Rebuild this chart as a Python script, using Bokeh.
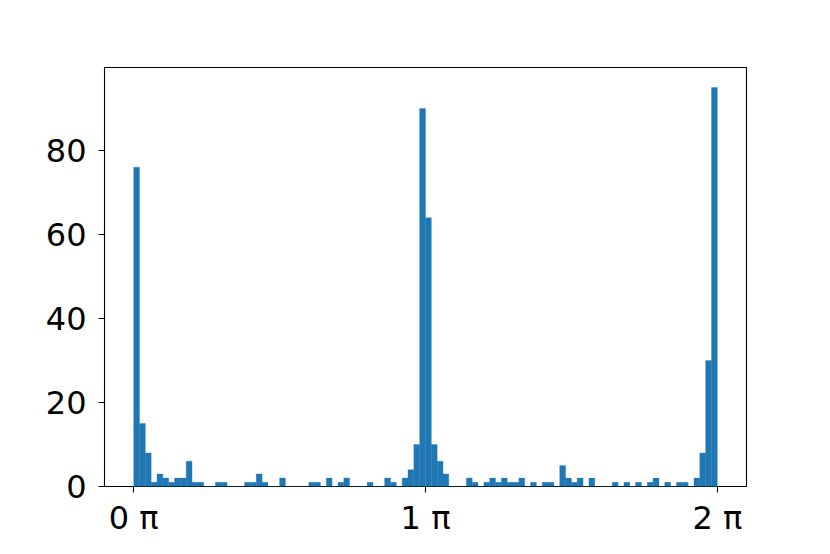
import numpy as np
from bokeh.plotting import figure
from bokeh.models import Range1d, FixedTicker, ColumnDataSource
from bokeh.embed import file_html
from bokeh.resources import INLINE

# Histogram counts for 100 equal bins over [0, 2π]
counts = [76, 15, 8, 1, 3, 2, 1, 2, 2, 6, 1, 1, 0, 0, 1, 1, 0, 0, 0, 1,
          1, 3, 1, 0, 0, 2, 0, 0, 0, 0, 1, 1, 0, 2, 0, 1, 2, 0, 0, 0,
          1, 0, 0, 2, 1, 0, 2, 4, 10, 90, 64, 10, 6, 3, 0, 0, 0, 2, 1, 0,
          1, 2, 1, 2, 1, 1, 2, 0, 1, 0, 1, 1, 0, 5, 2, 1, 2, 0, 2, 0,
          0, 0, 1, 0, 1, 0, 1, 0, 1, 2, 0, 1, 0, 1, 1, 0, 2, 8, 30, 95]
x_min, x_max = 0.0, 2 * np.pi
x_ticks = [0.0, np.pi, 2 * np.pi]
x_tick_labels = ["0 π", "1 π", "2 π"]
y_ticks = [0, 20, 40, 60, 80]

edges = np.linspace(x_min, x_max, len(counts) + 1)
src = ColumnDataSource(dict(left=edges[:-1], right=edges[1:],
                            top=counts, bottom=[0] * len(counts)))

span = x_max - x_min
p = figure(frame_width=642, frame_height=419, output_backend="svg", toolbar_location=None,
           x_range=Range1d(x_min - 0.05 * span, x_max + 0.05 * span),
           y_range=Range1d(0, max(counts) * 1.05),
           min_border_left=104, min_border_right=68,
           min_border_top=67, min_border_bottom=52)

p.quad(left="left", right="right", top="top", bottom="bottom", source=src,
       fill_color="#1f77b4", line_color="#1f77b4", line_width=0.5, line_alpha=0.6)

p.xgrid.visible = False
p.ygrid.visible = False
p.outline_line_color = "black"
p.outline_line_width = 1.1
p.background_fill_color = "white"
p.border_fill_color = "white"

p.xaxis.ticker = FixedTicker(ticks=x_ticks)
p.xaxis.major_label_overrides = {t: l for t, l in zip(x_ticks, x_tick_labels)}
p.yaxis.ticker = FixedTicker(ticks=y_ticks)

for ax in (p.xaxis, p.yaxis):
    ax.axis_line_color = None
    ax.major_tick_line_color = "black"
    ax.major_tick_line_width = 1.1
    ax.major_tick_out = 6
    ax.major_tick_in = 0
    ax.minor_tick_line_color = None
    ax.major_label_text_font = "DejaVu Sans"
    ax.major_label_text_font_size = "32px"
    ax.major_label_text_color = "black"
p.yaxis.major_label_standoff = 12
p.xaxis.major_label_standoff = 6

open("out.html", "w").write(file_html(p, INLINE))
